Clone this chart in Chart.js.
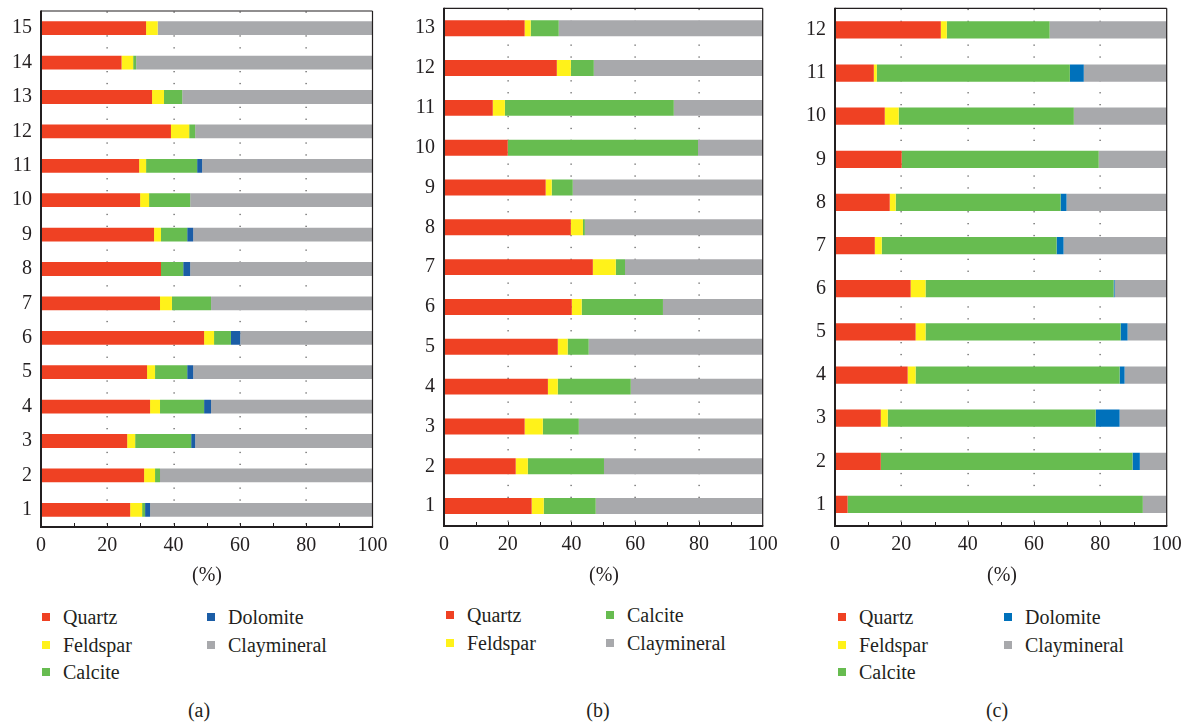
<!DOCTYPE html>
<html>
<head>
<meta charset="utf-8">
<script src="https://cdn.jsdelivr.net/npm/chart.js@4/dist/chart.umd.min.js"></script>
<style>
  html, body { margin: 0; padding: 0; background: #fff; }
  #wrap { position: relative; width: 1187px; height: 722px; overflow: hidden;
          font-family: "Liberation Serif", "Times New Roman", Tinos, "DejaVu Serif", "Noto Serif", serif; color: #231f20; }
  canvas { position: absolute; top: 0; }
  .txt { position: absolute; font-size: 20px; line-height: 20px; white-space: nowrap; transform: translate(-50%, -50%); }
  .leg { position: absolute; font-size: 20px; line-height: 20px; white-space: nowrap; transform: translateY(-50%); }
  .sw { position: absolute; width: 8px; height: 8px; transform: translateY(-50%); }
</style>
</head>
<body>
<div id="wrap">
  <canvas id="chartA" width="400" height="566" style="left:0px"></canvas>
  <canvas id="chartB" width="400" height="564" style="left:400px"></canvas>
  <canvas id="chartC" width="397" height="564" style="left:790px"></canvas>
</div>
<script>
// Mineral names and colours
const mineralNames = ['Quartz', 'Feldspar', 'Calcite', 'Dolomite', 'Claymineral'];
const colorQuartz = '#ef4123';
const colorFeldspar = '#fff21a';
const colorCalcite = '#67bc50';
const colorDolomiteA = '#1b5da6';
const colorDolomiteC = '#0071bb';
const colorClay = '#a8a9ac';

// Axis ticks shared by all panels
const xTickValues = [0, 20, 40, 60, 80, 100];
const axisTitle = '(%)';

// Panel (a): samples 1–15
const samplesA = ['1','2','3','4','5','6','7','8','9','10','11','12','13','14','15'];
const quartzA   = [26.9, 31.1, 26.0, 32.9, 32.0, 49.2, 35.9, 36.2, 34.1, 29.9, 29.6, 39.2, 33.5, 24.3, 31.7];
const feldsparA = [3.6, 3.3, 2.4, 3.0, 2.4, 3.0, 3.6, 0, 2.1, 2.7, 2.1, 5.5, 3.6, 3.5, 3.5];
const calciteA  = [0.9, 1.5, 16.9, 13.3, 9.7, 5.1, 11.8, 6.7, 7.9, 12.4, 15.4, 1.8, 5.5, 0.9, 0];
const dolomiteA = [1.5, 0, 1.2, 2.1, 1.8, 2.8, 0, 2.1, 1.8, 0, 1.5, 0, 0, 0, 0];
const clayA     = [67.1, 64.1, 53.5, 48.7, 54.1, 39.9, 48.7, 55.0, 54.1, 55.0, 51.4, 53.5, 57.4, 71.3, 64.8];

// Panel (b): samples 1–13
const samplesB = ['1','2','3','4','5','6','7','8','9','10','11','12','13'];
const quartzB   = [27.5, 22.5, 25.3, 32.6, 35.7, 40.1, 46.7, 39.8, 31.9, 20.0, 15.3, 35.4, 25.3];
const feldsparB = [3.8, 3.8, 5.7, 3.1, 3.1, 3.1, 7.2, 3.8, 1.9, 0, 3.8, 4.4, 1.9];
const calciteB  = [16.3, 23.9, 11.3, 22.9, 6.6, 25.5, 2.9, 0.6, 6.6, 59.7, 53.0, 7.2, 8.8];
const clayB     = [52.4, 49.8, 57.7, 41.4, 54.6, 31.3, 43.2, 55.8, 59.6, 20.3, 27.9, 53.0, 64.0];

// Panel (c): samples 1–12
const samplesC = ['1','2','3','4','5','6','7','8','9','10','11','12'];
const quartzC   = [3.8, 13.8, 13.8, 21.9, 24.3, 22.8, 12.0, 16.5, 20.1, 15.0, 11.7, 31.9];
const feldsparC = [0, 0, 2.1, 2.4, 3.0, 4.5, 2.1, 1.8, 0, 4.2, 0.9, 1.8];
const calciteC  = [89.0, 75.9, 62.7, 61.5, 58.8, 56.7, 52.7, 49.7, 59.4, 52.8, 58.2, 31.0];
const dolomiteC = [0, 2.2, 7.2, 1.5, 2.1, 0.3, 2.1, 1.8, 0, 0, 4.2, 0];
const clayC     = [7.2, 8.1, 14.2, 12.7, 11.8, 15.7, 31.1, 30.2, 20.5, 28.0, 25.0, 35.3];

const FONT = '"Liberation Serif", "Times New Roman", Tinos, "DejaVu Serif", "Noto Serif", serif';
const INK = '#231f20';

// Dotted guide lines at the labelled ticks, frame and inward minor ticks
const framePlugin = {
  id: 'frame',
  beforeDatasetsDraw(chart) {
    const { ctx, chartArea: a, scales: { x } } = chart;
    ctx.save();
    ctx.fillStyle = '#555';
    [20, 40, 60, 80].forEach(v => {
      const px = Math.round(x.getPixelForValue(v));
      for (let y = a.top + 0.5; y < a.bottom - 2; y += 11.9) {
        ctx.fillRect(px - 0.5, y, 1.2, 1.3);
      }
    });
    ctx.restore();
  },
  afterDatasetsDraw(chart) {
    const { ctx, chartArea: a, scales: { x } } = chart;
    ctx.save();
    ctx.strokeStyle = INK;
    // top and right edges
    ctx.lineWidth = 1.2;
    ctx.beginPath();
    ctx.moveTo(a.left, a.top); ctx.lineTo(a.right, a.top);
    ctx.moveTo(a.right, a.top); ctx.lineTo(a.right, a.bottom);
    ctx.stroke();
    // minor ticks every 10 %
    ctx.lineWidth = 1;
    ctx.beginPath();
    for (let v = 10; v < 100; v += 10) {
      const px = Math.round(x.getPixelForValue(v)) + 0.5;
      ctx.moveTo(px, a.bottom); ctx.lineTo(px, a.bottom - 4);
    }
    ctx.stroke();
    // left and bottom axes
    ctx.lineWidth = 2;
    ctx.beginPath();
    ctx.moveTo(a.left, a.top - 0.6); ctx.lineTo(a.left, a.bottom + 1);
    ctx.moveTo(a.left - 1, a.bottom); ctx.lineTo(a.right + 0.6, a.bottom);
    ctx.stroke();
    ctx.restore();
  }
};

function makeDatasets(series, colors) {
  return series.map((s, i) => ({
    label: s.name,
    data: s.values,
    backgroundColor: colors[i],
    borderWidth: 0,
    barPercentage: 0.4,
    categoryPercentage: 1.0
  }));
}

function makeChart(id, labels, series, colors, geom) {
  return new Chart(document.getElementById(id), {
    type: 'bar',
    data: { labels: labels, datasets: makeDatasets(series, colors) },
    options: {
      indexAxis: 'y',
      responsive: false,
      animation: false,
      devicePixelRatio: 1,
      layout: { padding: { top: geom.top, right: geom.right, left: 0, bottom: 0 } },
      plugins: { legend: { display: false }, tooltip: { enabled: false } },
      scales: {
        x: {
          stacked: true, min: 0, max: 100,
          afterBuildTicks: s => { s.ticks = xTickValues.map(v => ({ value: v })); },
          afterFit: s => { s.height = geom.xh; s.paddingLeft = 0; s.paddingRight = 0; },
          grid: { display: false, drawTicks: false },
          border: { display: false },
          ticks: { padding: 7, color: INK, font: { family: FONT, size: 20 }, maxRotation: 0 }
        },
        y: {
          stacked: true, reverse: true,
          afterFit: s => { s.width = geom.yw; s.paddingTop = 0; s.paddingBottom = 0; },
          grid: { display: false, drawTicks: false },
          border: { display: false },
          ticks: { padding: 9, color: INK, font: { family: FONT, size: 20 } }
        }
      }
    },
    plugins: [framePlugin]
  });
}

makeChart('chartA', samplesA, [
  { name: mineralNames[0], values: quartzA },
  { name: mineralNames[1], values: feldsparA },
  { name: mineralNames[2], values: calciteA },
  { name: mineralNames[3], values: dolomiteA },
  { name: mineralNames[4], values: clayA }
], [colorQuartz, colorFeldspar, colorCalcite, colorDolomiteA, colorClay],
{ top: 11, right: 27.5, yw: 41, xh: 39 });

makeChart('chartB', samplesB, [
  { name: mineralNames[0], values: quartzB },
  { name: mineralNames[1], values: feldsparB },
  { name: mineralNames[2], values: calciteB },
  { name: mineralNames[4], values: clayB }
], [colorQuartz, colorFeldspar, colorCalcite, colorClay],
{ top: 8.3, right: 37.3, yw: 44, xh: 38 });

makeChart('chartC', samplesC, [
  { name: mineralNames[0], values: quartzC },
  { name: mineralNames[1], values: feldsparC },
  { name: mineralNames[2], values: calciteC },
  { name: mineralNames[3], values: dolomiteC },
  { name: mineralNames[4], values: clayC }
], [colorQuartz, colorFeldspar, colorCalcite, colorDolomiteC, colorClay],
{ top: 8.3, right: 20.3, yw: 45, xh: 38 });

// Axis titles, legends and panel captions
const wrap = document.getElementById('wrap');
function addText(cls, text, x, y) {
  const d = document.createElement('div');
  d.className = cls; d.textContent = text;
  d.style.left = x + 'px'; d.style.top = y + 'px';
  wrap.appendChild(d);
}
function addLegend(items, rows, x0, colStep, y0, rowStep) {
  items.forEach((it, i) => {
    const col = Math.floor(i / rows), row = i % rows;
    const sx = x0 + col * colStep, y = y0 + row * rowStep;
    const sw = document.createElement('div');
    sw.className = 'sw'; sw.style.left = sx + 'px'; sw.style.top = y + 'px';
    sw.style.background = it.color;
    wrap.appendChild(sw);
    addText('leg', it.name, sx + 21, y);
  });
}

addText('txt', axisTitle, 207, 574);
addText('txt', axisTitle, 604, 574);
addText('txt', axisTitle, 1002, 574);

addLegend([
  { name: mineralNames[0], color: colorQuartz },
  { name: mineralNames[1], color: colorFeldspar },
  { name: mineralNames[2], color: colorCalcite },
  { name: mineralNames[3], color: colorDolomiteA },
  { name: mineralNames[4], color: colorClay }
], 3, 42, 165, 617, 27.5);

addLegend([
  { name: mineralNames[0], color: colorQuartz },
  { name: mineralNames[1], color: colorFeldspar },
  { name: mineralNames[2], color: colorCalcite },
  { name: mineralNames[4], color: colorClay }
], 2, 446, 160, 615, 27.5);

addLegend([
  { name: mineralNames[0], color: colorQuartz },
  { name: mineralNames[1], color: colorFeldspar },
  { name: mineralNames[2], color: colorCalcite },
  { name: mineralNames[3], color: colorDolomiteC },
  { name: mineralNames[4], color: colorClay }
], 3, 838, 166, 617, 27.5);

addText('txt', '(a)', 199, 710);
addText('txt', '(b)', 598, 710);
addText('txt', '(c)', 997, 710);
</script>
</body>
</html>
